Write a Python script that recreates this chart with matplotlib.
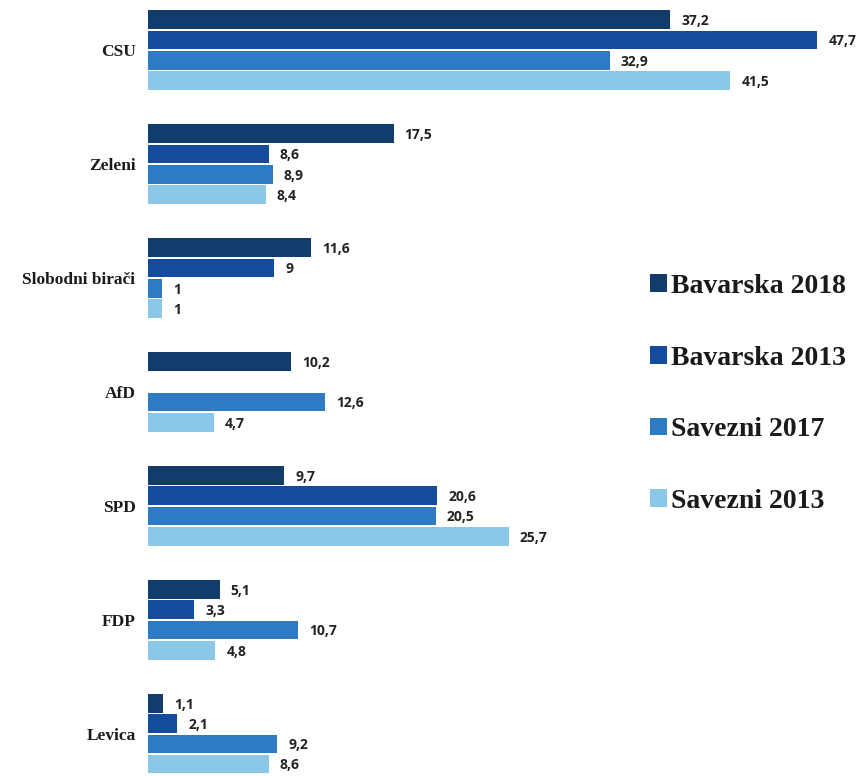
import numpy as np
from matplotlib import pyplot as plt

parties = ["CSU", "Zeleni", "Slobodni birači", "AfD", "SPD", "FDP", "Levica"]
series = ["Bavarska 2018", "Bavarska 2013", "Savezni 2017", "Savezni 2013"]
bav_2018 = [37.2, 17.5, 11.6, 10.2, 9.7, 5.1, 1.1]
bav_2013 = [47.7, 8.6, 9, np.nan, 20.6, 3.3, 2.1]
sav_2017 = [32.9, 8.9, 1, 12.6, 20.5, 10.7, 9.2]
sav_2013 = [41.5, 8.4, 1, 4.7, 25.7, 4.8, 8.6]

colors = ["#123c6c", "#144b9c", "#2e7bc3", "#8bc8e7"]

fig = plt.figure(figsize=(8.65, 7.76), dpi=100)
ax = fig.add_axes([148 / 865, 0, 717 / 865, 1])

y = np.arange(len(parties))
h = 0.177
offsets = [-1.5, -0.5, 0.5, 1.5]

for vals, name, col, off in zip([bav_2018, bav_2013, sav_2017, sav_2013], series, colors, offsets):
    bars = ax.barh(y + off * h, vals, height=h - 0.012, color=col, label=name)
    for b, v in zip(bars, vals):
        if np.isnan(v):
            continue
        txt = ("%g" % v).replace(".", ",")
        ax.annotate(txt, (b.get_width(), b.get_y() + b.get_height() / 2),
                    xytext=(8, -1), textcoords="offset points", va="center", ha="left",
                    fontsize=10, fontweight="bold", family="Open Sans", color="#222222")

ax.set_yticks(y, parties)
for lab in ax.get_yticklabels():
    lab.set_family("Liberation Serif")
    lab.set_fontsize(12.5)
    lab.set_fontweight("bold")
    lab.set_color("#1a1a1a")
ax.tick_params(axis="y", length=0, pad=9)
ax.set_xticks([])
ax.set_xlim(0, 51.1)
ax.set_ylim(6.37, -0.44)
for s in ax.spines.values():
    s.set_visible(False)

leg = ax.legend(loc="upper left", bbox_to_anchor=(650 / 865, 1 - 274 / 776),
                bbox_transform=fig.transFigure, frameon=False, borderpad=0, borderaxespad=0,
                handlelength=0.6, handleheight=0.6, handletextpad=0.15,
                labelspacing=1.68, prop={"family": "Liberation Serif", "size": 20, "weight": "bold"})
for t in leg.get_texts():
    t.set_color("#1a1a1a")

plt.savefig("out.png", dpi=100)
